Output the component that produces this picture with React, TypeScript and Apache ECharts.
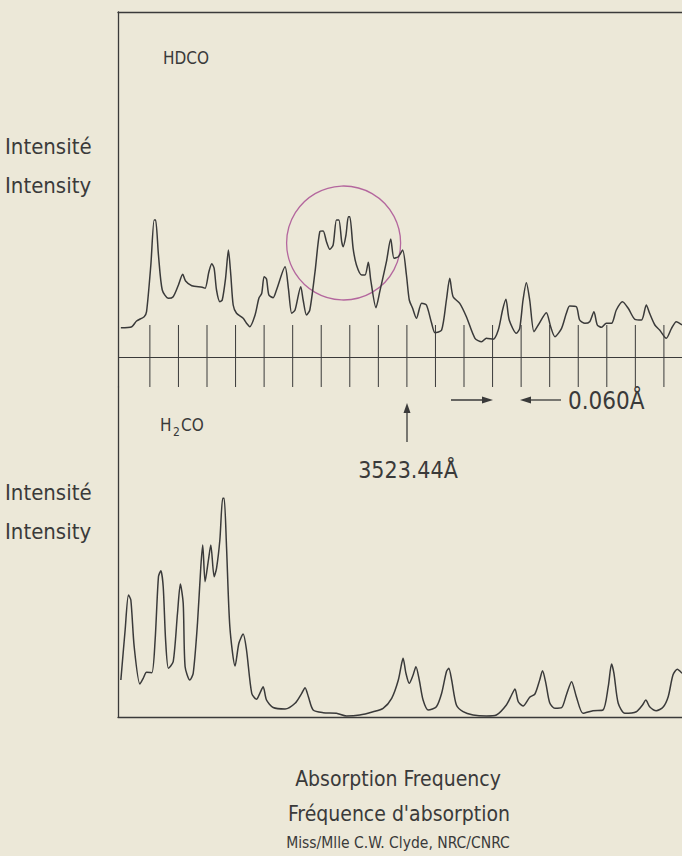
import React, { useEffect, useRef } from "react";
import * as echarts from "echarts";

// x: wavelength offset from 3523.44 Å, in mÅ ; y: intensity (arbitrary units)
const TICK_OFFSETS = [-540, -480, -420, -360, -300, -240, -180, -120, -60, 0, 60, 120, 180, 240, 300, 360, 420, 480, 540];

const HDCO: number[][] = [
  [-601, 29.3], [-578, 30.3], [-568, 36], [-552, 40.3], [-547, 45.3], [-538, 92], [-531, 137], [-528, 137],
  [-522, 102], [-514, 67], [-501, 58.7], [-491, 60.3], [-480, 72], [-471, 82.7], [-465, 76], [-452, 71.3],
  [-430, 69.7], [-424, 68.7], [-416, 85.3], [-410, 93.3], [-405, 88.7], [-400, 67], [-393, 55.3], [-388, 57],
  [-381, 78.7], [-375, 107], [-370, 82], [-365, 52], [-358, 43.7], [-344, 38.7], [-337, 33.7], [-330, 30.3],
  [-319, 42], [-311, 58.7], [-305, 63.7], [-300, 80.3], [-295, 78], [-290, 62], [-281, 59.3], [-274, 67],
  [-256, 90.3], [-249, 68.7], [-242, 43.7], [-235, 47], [-223, 70.3], [-218, 57], [-211, 42], [-204, 47],
  [-193, 85.3], [-183, 125.3], [-176, 126], [-169, 115.3], [-162, 107.7], [-155, 112], [-148, 137], [-143, 137],
  [-137, 115.3], [-134, 110.3], [-128, 122], [-123, 140.3], [-120, 140.3], [-113, 108.7], [-106, 92], [-95, 82],
  [-88, 82], [-81, 94.7], [-76, 77], [-65, 49.3], [-57, 65.3], [-43, 95.3], [-34, 118], [-27, 98.7],
  [-18, 100.3], [-9, 107], [-1, 82], [5, 57], [12, 48.7], [20, 38.7], [31, 53.7], [41, 52],
  [52, 33.7], [59, 24.3], [73, 27], [83, 57], [90, 78.7], [97, 60.3], [111, 53.7], [125, 40.3],
  [143, 18.7], [157, 15.3], [167, 18.7], [181, 17.7], [192, 27], [201, 47], [208, 57.7], [215, 37],
  [230, 23.7], [237, 28.7], [244, 57], [251, 74.3], [258, 57], [267, 25.3], [276, 32], [293, 44.3],
  [302, 30.3], [311, 20.3], [325, 28.7], [335, 43.7], [342, 51], [356, 50.3], [363, 37], [374, 33.7],
  [384, 35.3], [393, 45.3], [400, 32], [409, 29.7], [419, 33.7], [430, 33.7], [440, 47], [453, 55.3],
  [465, 48.7], [479, 37.7], [493, 37], [503, 52], [510, 43.7], [521, 32], [531, 27], [545, 18.7],
  [556, 28.7], [566, 35.3], [578, 32]
];

const H2CO: number[][] = [
  [-601, 37], [-592, 87], [-585, 122], [-580, 117], [-573, 70.3], [-561, 33], [-554, 38.7], [-547, 44.7],
  [-536, 44.3], [-529, 77], [-522, 140.3], [-517, 146.3], [-512, 130.3], [-507, 77], [-501, 48.7], [-491, 55.3],
  [-482, 103.7], [-476, 133], [-470, 113.7], [-466, 50.3], [-456, 37], [-449, 43.7], [-440, 93.7], [-433, 150.3],
  [-429, 172], [-424, 135.3], [-417, 157], [-412, 172], [-405, 140.3], [-400, 148.7], [-393, 177], [-387, 218.7],
  [-384, 218.7], [-379, 170.3], [-372, 90.3], [-361, 51], [-353, 73.7], [-344, 83], [-337, 67], [-326, 23.7],
  [-316, 17.7], [-309, 23.7], [-302, 30.3], [-295, 17], [-281, 9.5], [-256, 8], [-235, 13.7], [-221, 23.7],
  [-214, 29.3], [-207, 20.3], [-197, 7], [-176, 4.3], [-148, 3.7], [-127, 1], [-99, 2], [-71, 5.3],
  [-50, 8.7], [-32, 18.7], [-18, 37], [-11, 53.7], [-8, 58.7], [-2, 43.7], [5, 33.7], [13, 42],
  [19, 50.3], [26, 37], [34, 17], [45, 7], [62, 10.3], [73, 23.7], [83, 45.3], [88, 48.7],
  [94, 37], [104, 12], [118, 5.3], [139, 2], [167, 1], [188, 2], [209, 12], [220, 22],
  [227, 28], [234, 15.3], [244, 11], [258, 19.7], [269, 23], [279, 37], [285, 46.3], [292, 33.7],
  [300, 14.3], [311, 8.7], [325, 9.3], [335, 22], [346, 35.3], [356, 20.3], [370, 3.7], [391, 6.3],
  [412, 7], [423, 30.3], [430, 53], [435, 43.7], [444, 13.7], [458, 3.7], [482, 5.3], [495, 12],
  [502, 17], [510, 10.3], [524, 6.3], [538, 9.7], [549, 20.3], [559, 42], [568, 47.7], [578, 43.7]
];

const CIRCLE_CENTER = [[-133, 114]];
const X_MIN = -607;
const X_MAX = 578;
const TICK_TOP = 32;
const TICK_BOTTOM = -30;

const INK = "#3a3a3a";
const BG = "#ece8d8";
const FONT = "'Liberation Sans Narrow', 'DejaVu Sans Condensed', 'Liberation Sans', sans-serif";

function txt(text: string, x: number, y: number, size: number, align = "left") {
  return {
    type: "text",
    x,
    y,
    style: { text, fill: INK, fontSize: size, fontFamily: FONT, textAlign: align, textVerticalAlign: "middle" },
  };
}

export default function App() {
  const ref = useRef<HTMLDivElement>(null);
  useEffect(() => {
    document.body.style.margin = "0";
    document.body.style.background = BG;
    const chart = echarts.init(ref.current!, null, { renderer: "svg" });
    const axisLine = { show: true, onZero: false, lineStyle: { color: INK, width: 1.3 } };
    const hidden = { axisTick: { show: false }, axisLabel: { show: false }, splitLine: { show: false } };
    chart.setOption({
      animation: false,
      backgroundColor: BG,
      grid: [
        { left: 118, top: 12, width: 564, height: 375 },
        { left: 118, top: 387, width: 564, height: 330 },
      ],
      xAxis: [
        { gridIndex: 0, type: "value", min: X_MIN, max: X_MAX, position: "top", axisLine, ...hidden },
        { gridIndex: 1, type: "value", min: X_MIN, max: X_MAX, position: "bottom", axisLine, ...hidden },
      ],
      yAxis: [
        { gridIndex: 0, type: "value", min: -30, max: 345, axisLine, ...hidden },
        { gridIndex: 1, type: "value", min: 0, max: 330, axisLine, ...hidden },
      ],
      series: [
        {
          name: "HDCO",
          type: "line",
          xAxisIndex: 0,
          yAxisIndex: 0,
          data: HDCO,
          showSymbol: false,
          smooth: 0.25,
          lineStyle: { color: INK, width: 1.5 },
          markLine: {
            silent: true,
            symbol: "none",
            label: { show: false },
            lineStyle: { color: INK, width: 1.2, type: "solid" },
            data: [{ yAxis: 0 }],
          },
        },
        {
          name: "ticks",
          type: "custom",
          xAxisIndex: 0,
          yAxisIndex: 0,
          data: TICK_OFFSETS.map((v) => [v, 0]),
          renderItem: (_p: any, api: any) => {
            const x = api.value(0);
            const a = api.coord([x, TICK_TOP]);
            const b = api.coord([x, TICK_BOTTOM]);
            return { type: "line", shape: { x1: a[0], y1: a[1], x2: b[0], y2: b[1] }, style: { stroke: INK, lineWidth: 1 } };
          },
        },
        {
          name: "circle",
          type: "custom",
          xAxisIndex: 0,
          yAxisIndex: 0,
          data: CIRCLE_CENTER,
          renderItem: (_p: any, api: any) => {
            const c = api.coord([api.value(0), api.value(1)]);
            return { type: "circle", shape: { cx: c[0], cy: c[1], r: 57 }, style: { fill: "none", stroke: "#b4679e", lineWidth: 1.3 } };
          },
        },
        {
          name: "H2CO",
          type: "line",
          xAxisIndex: 1,
          yAxisIndex: 1,
          data: H2CO,
          showSymbol: false,
          smooth: 0.25,
          lineStyle: { color: INK, width: 1.5 },
        },
      ],
      graphic: [
        txt("HDCO", 163, 58, 17),
        txt("Intensité", 5, 146, 22),
        txt("Intensity", 5, 185, 22),
        txt("H", 160, 425, 17),
        txt("2", 173, 432, 12),
        txt("CO", 181, 425, 17),
        txt("Intensité", 5, 492, 22),
        txt("Intensity", 5, 531, 22),
        txt("3523.44Å", 408, 470, 23, "center"),
        txt("0.060Å", 568, 401, 24),
        txt("Absorption Frequency", 398, 779, 21, "center"),
        txt("Fréquence d'absorption", 399, 814, 21, "center"),
        txt("Miss/Mlle C.W. Clyde, NRC/CNRC", 398, 843, 15.5, "center"),
        { type: "line", shape: { x1: 407, y1: 442, x2: 407, y2: 410 }, style: { stroke: INK, lineWidth: 1.3 } },
        { type: "polygon", shape: { points: [[407, 403], [403.5, 413], [410.5, 413]] }, style: { fill: INK } },
        { type: "line", shape: { x1: 451, y1: 400, x2: 484, y2: 400 }, style: { stroke: INK, lineWidth: 1.3 } },
        { type: "polygon", shape: { points: [[493, 400], [482, 396.5], [482, 403.5]] }, style: { fill: INK } },
        { type: "line", shape: { x1: 529, y1: 400, x2: 561, y2: 400 }, style: { stroke: INK, lineWidth: 1.3 } },
        { type: "polygon", shape: { points: [[520, 400], [531, 396.5], [531, 403.5]] }, style: { fill: INK } },
      ],
    });
    return () => chart.dispose();
  }, []);
  return <div ref={ref} style={{ position: "absolute", left: 0, top: 0, width: 682, height: 856 }} />;
}
